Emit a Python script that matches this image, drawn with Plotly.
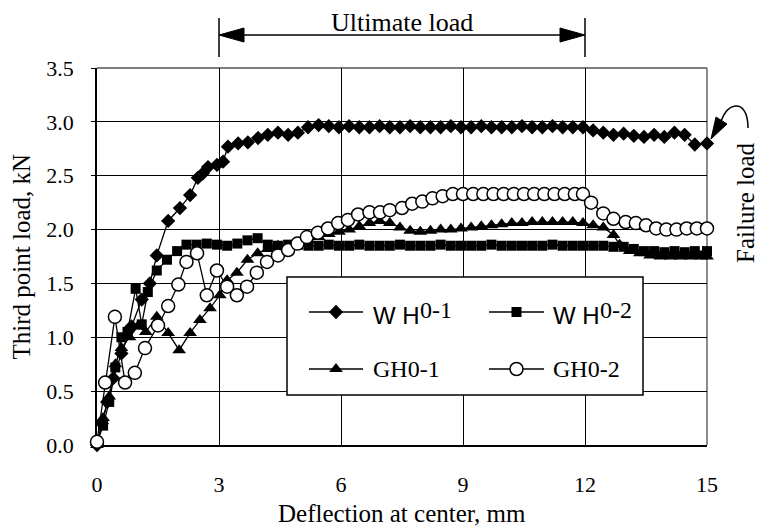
import plotly.graph_objects as go

# ---------------- data ----------------
wh01_x = [0, 0.12, 0.25, 0.4, 0.6, 0.85, 1.1, 1.3, 1.47, 1.75, 2.04, 2.29, 2.48, 2.6, 2.73, 2.95, 3.1, 3.22, 3.47, 3.71,
          3.96, 4.2, 4.45, 4.7, 4.94, 5.19, 5.45, 5.7, 5.95, 6.2, 6.45, 6.7, 6.95, 7.2, 7.45, 7.7, 7.95, 8.2, 8.45, 8.7,
          8.95, 9.2, 9.45, 9.7, 9.95, 10.2, 10.45, 10.7, 10.95, 11.2, 11.45, 11.7, 11.95, 12.2, 12.45, 12.7, 12.95, 13.2,
          13.45, 13.7, 13.95, 14.2, 14.45, 14.7, 15.0]
wh01_y = [0, 0.2, 0.4, 0.62, 0.85, 1.1, 1.35, 1.5, 1.76, 2.08, 2.2, 2.32, 2.48, 2.52, 2.58, 2.6, 2.63, 2.77, 2.8, 2.81,
          2.85, 2.88, 2.9, 2.88, 2.9, 2.95, 2.97, 2.96, 2.95, 2.96, 2.95, 2.95, 2.96, 2.95, 2.95, 2.96, 2.95, 2.95, 2.95,
          2.96, 2.95, 2.95, 2.96, 2.95, 2.95, 2.95, 2.96, 2.95, 2.95, 2.96, 2.95, 2.95, 2.95, 2.92, 2.9, 2.88, 2.89, 2.87,
          2.86, 2.88, 2.86, 2.9, 2.88, 2.79, 2.8]

wh02_x = [0, 0.15, 0.3, 0.45, 0.6, 0.75, 0.95, 1.1, 1.25, 1.47, 1.72, 1.97, 2.2, 2.45, 2.7, 2.95, 3.2, 3.45, 3.7, 3.95,
          4.2, 4.45, 4.7, 4.95, 5.2, 5.45, 5.7, 5.95, 6.2, 6.45, 6.7, 6.95, 7.2, 7.45, 7.7, 7.95, 8.2, 8.45, 8.7, 8.95,
          9.2, 9.45, 9.7, 9.95, 10.2, 10.45, 10.7, 10.95, 11.2, 11.45, 11.7, 11.95, 12.2, 12.45, 12.7, 12.95, 13.2, 13.45,
          13.7, 13.95, 14.2, 14.45, 14.7, 15.0]
wh02_y = [0.02, 0.18, 0.4, 0.72, 1.0, 1.05, 1.45, 1.12, 1.42, 1.62, 1.72, 1.8, 1.86, 1.86, 1.87, 1.86, 1.85, 1.87, 1.9,
          1.92, 1.86, 1.85, 1.86, 1.86, 1.85, 1.85, 1.86, 1.85, 1.85, 1.86, 1.85, 1.85, 1.85, 1.86, 1.85, 1.85, 1.85,
          1.86, 1.85, 1.85, 1.85, 1.85, 1.86, 1.85, 1.85, 1.85, 1.85, 1.85, 1.86, 1.85, 1.85, 1.85, 1.85, 1.85, 1.84,
          1.84, 1.82, 1.8, 1.8, 1.79, 1.8, 1.79, 1.8, 1.8]

gh01_x = [0, 0.15, 0.3, 0.45, 0.6, 0.8, 1.0, 1.2, 1.47, 1.75, 2.02, 2.29, 2.53, 2.78, 3.02, 3.2, 3.44, 3.7, 3.95, 4.2,
          4.45, 4.7, 4.95, 5.2, 5.45, 5.7, 5.95, 6.2, 6.45, 6.7, 6.95, 7.2, 7.45, 7.7, 7.95, 8.2, 8.45, 8.7, 8.95, 9.2,
          9.45, 9.7, 9.95, 10.2, 10.45, 10.7, 10.95, 11.2, 11.45, 11.7, 11.95, 12.2, 12.45, 12.7, 12.85, 13.1, 13.35,
          13.6, 13.85, 14.1, 14.35, 14.6, 14.85, 15.0]
gh01_y = [0, 0.25, 0.45, 0.75, 0.9, 1.0, 1.1, 1.05, 1.19, 1.04, 0.88, 1.04, 1.16, 1.27, 1.39, 1.53, 1.6, 1.72, 1.78,
          1.82, 1.85, 1.84, 1.88, 1.9, 1.93, 1.96, 1.98, 2.0, 2.03, 2.06, 2.08, 2.06, 2.02, 1.99, 1.98, 1.99, 2.0, 2.0,
          2.01, 2.02, 2.03, 2.04, 2.05, 2.06, 2.06, 2.07, 2.07, 2.07, 2.07, 2.07, 2.06, 2.04, 2.02, 1.95, 1.86, 1.8,
          1.78, 1.76, 1.75, 1.75, 1.75, 1.75, 1.75, 1.75]

gh02_x = [0, 0.2, 0.44, 0.69, 0.93, 1.18, 1.5, 1.75, 2.0, 2.2, 2.46, 2.7, 2.95, 3.2, 3.44, 3.69, 3.93, 4.18, 4.45, 4.7,
          4.93, 5.16, 5.43, 5.68, 5.93, 6.17, 6.42, 6.7, 6.96, 7.2, 7.5, 7.75, 8.0, 8.25, 8.5, 8.75, 9.0, 9.25, 9.5,
          9.75, 10.0, 10.25, 10.5, 10.75, 11.0, 11.25, 11.5, 11.75, 11.95, 12.15, 12.45, 12.7, 13.0, 13.25, 13.5, 13.75,
          14.0, 14.25, 14.5, 14.75, 15.0]
gh02_y = [0.03, 0.58, 1.19, 0.58, 0.67, 0.9, 1.11, 1.29, 1.49, 1.7, 1.78, 1.39, 1.62, 1.47, 1.39, 1.47, 1.6, 1.7, 1.76,
          1.81, 1.87, 1.93, 1.97, 2.01, 2.06, 2.09, 2.14, 2.16, 2.16, 2.18, 2.2, 2.24, 2.26, 2.29, 2.31, 2.33, 2.33,
          2.33, 2.33, 2.33, 2.33, 2.33, 2.33, 2.33, 2.33, 2.33, 2.33, 2.33, 2.33, 2.25, 2.15, 2.1, 2.07, 2.06, 2.04,
          2.01, 2.0, 2.0, 2.01, 2.01, 2.01]

x_ticks = [0, 3, 6, 9, 12, 15]
y_ticks = [0, 0.5, 1.0, 1.5, 2.0, 2.5, 3.0, 3.5]
ultimate_range = [3, 12]

# ---------------- layout geometry ----------------
# body margin is removed by a post script, so the figure fills the window
W, H = 759, 526
ML, MR, MT, MB = 97, 52, 68, 81
PW, PH = W - ML - MR, H - MT - MB
XR, YR = [0, 15], [0, 3.5]
SERIF = "Liberation Serif, Times New Roman, serif"
SANS = "Liberation Sans, Arial, sans-serif"


# helpers: convert window pixel positions to axis / paper coordinates
def dx(px):
    return XR[0] + (px - ML) / PW * (XR[1] - XR[0])


def dy(py):
    return YR[0] + (H - MB - py) / PH * (YR[1] - YR[0])


def pxp(px):
    return (px - ML) / PW


def pyp(py):
    return (H - MB - py) / PH


fig = go.Figure()
line = dict(color="black", width=1.3)
series = [
    ("WH0-1", wh01_x, wh01_y, dict(symbol="diamond", size=11, color="black")),
    ("WH0-2", wh02_x, wh02_y, dict(symbol="square", size=10, color="black")),
    ("GH0-1", gh01_x, gh01_y, dict(symbol="triangle-up", size=12, color="black")),
    ("GH0-2", gh02_x, gh02_y, dict(symbol="circle", size=13, color="white", line=dict(color="black", width=1.5))),
]
for name, xs, ys, mk in series:
    fig.add_trace(go.Scatter(x=xs, y=ys, mode="lines+markers", name=name, line=line, marker=mk,
                             cliponaxis=False, showlegend=False))

shapes = []
# top and right frame
shapes.append(dict(type="line", xref="paper", yref="paper", x0=0, x1=1, y0=1, y1=1,
                   line=dict(color="#555", width=1.5), layer="between"))
shapes.append(dict(type="line", xref="paper", yref="paper", x0=1, x1=1, y0=0, y1=1,
                   line=dict(color="#666", width=1.5), layer="between"))

# manual legend
box = dict(x0=dx(287), x1=dx(643), y0=dy(395), y1=dy(277))
shapes.append(dict(type="rect", xref="x", yref="y", **box, fillcolor="white",
                   line=dict(color="black", width=1.5), layer="between"))
rows = [dy(312), dy(369)]
cols = [(dx(309), dx(363)), (dx(489), dx(544))]
pos = [(0, 0), (0, 1), (1, 0), (1, 1)]
for i, (name, xs, ys, mk) in enumerate(series):
    r, c = pos[i]
    x0, x1 = cols[c]
    shapes.append(dict(type="line", xref="x", yref="y", x0=x0, x1=x1, y0=rows[r], y1=rows[r],
                       line=dict(color="black", width=1.3), layer="between"))
    fig.add_trace(go.Scatter(x=[(x0 + x1) / 2], y=[rows[r]], mode="markers", marker=mk,
                             showlegend=False, hoverinfo="skip"))

annotations = []
text_x = [dx(371), dx(551)]
for i, (name, xs, ys, mk) in enumerate(series):
    r, c = pos[i]
    if name.startswith("WH"):
        annotations.append(dict(x=text_x[c], y=dy(315), xref="x", yref="y", xanchor="left", yanchor="middle",
                                text="W H", showarrow=False, font=dict(family=SANS, size=24, color="black")))
        annotations.append(dict(x=text_x[c] + (dx(97 + 47) - dx(97)), y=dy(310), xref="x", yref="y",
                                xanchor="left", yanchor="middle", text=name[2:], showarrow=False,
                                font=dict(family=SERIF, size=24, color="black")))
    else:
        annotations.append(dict(x=text_x[c], y=rows[r], xref="x", yref="y", xanchor="left", yanchor="middle",
                                text=name, showarrow=False, font=dict(family=SERIF, size=24, color="black")))

# Ultimate load arrow
ya = pyp(35)
hl = dx(97 + 25) - dx(97)
hw = pyp(35) - pyp(42)
ua, ub = ultimate_range
shapes.append(dict(type="line", xref="x", yref="paper", x0=ua + hl * 0.5, x1=ub - hl * 0.5, y0=ya, y1=ya,
                   line=dict(color="black", width=1.5)))
for xv in ultimate_range:
    shapes.append(dict(type="line", xref="x", yref="paper", x0=xv, x1=xv, y0=pyp(57), y1=pyp(18),
                       line=dict(color="black", width=1.5)))
shapes.append(dict(type="path", xref="x", yref="paper",
                   path=f"M {ua},{ya} L {ua + hl},{ya + hw} L {ua + hl},{ya - hw} Z",
                   fillcolor="black", line=dict(color="black", width=1)))
shapes.append(dict(type="path", xref="x", yref="paper",
                   path=f"M {ub},{ya} L {ub - hl},{ya + hw} L {ub - hl},{ya - hw} Z",
                   fillcolor="black", line=dict(color="black", width=1)))
annotations.append(dict(x=(ua + ub) / 2, y=pyp(23), xref="x", yref="paper", text="Ultimate load",
                        showarrow=False, xanchor="center", yanchor="middle",
                        font=dict(family=SERIF, size=26, color="black")))


# Failure load curved arrow
def P(px, py):
    return f"{pxp(px)},{pyp(py)}"


curve = f"M {P(748,128)} C {P(748,112)} {P(742,105)} {P(735,106)} C {P(728,107)} {P(724,113)} {P(721,121)}"
shapes.append(dict(type="path", xref="paper", yref="paper", path=curve, line=dict(color="black", width=1.5)))
shapes.append(dict(type="path", xref="paper", yref="paper",
                   path=f"M {P(711,139)} L {P(727,124)} L {P(716,117)} Z",
                   fillcolor="black", line=dict(color="black", width=1)))
annotations.append(dict(x=pxp(745), y=pyp(202), xref="paper", yref="paper", text="Failure load", textangle=-90,
                        showarrow=False, xanchor="center", yanchor="middle",
                        font=dict(family=SERIF, size=25, color="black")))

# axis titles
annotations.append(dict(x=0.5, y=pyp(513), xref="paper", yref="paper", text="Deflection at center, mm",
                        showarrow=False, xanchor="center", yanchor="middle",
                        font=dict(family=SERIF, size=25, color="black")))
annotations.append(dict(x=pxp(21), y=0.5, xref="paper", yref="paper", text="Third point load, kN", textangle=-90,
                        showarrow=False, xanchor="center", yanchor="middle",
                        font=dict(family=SERIF, size=25, color="black")))

fig.update_layout(
    width=W, height=H, autosize=False,
    margin=dict(l=ML, r=MR, t=MT, b=MB, pad=0),
    paper_bgcolor="white", plot_bgcolor="white",
    shapes=shapes, annotations=annotations,
    xaxis=dict(range=XR, tickvals=x_ticks, showgrid=True, gridcolor="black", gridwidth=1.3, zeroline=False,
               showline=True, linecolor="black", linewidth=1.5, ticks="", layer="below traces",
               tickfont=dict(family=SERIF, size=22, color="black"), ticklabelstandoff=19, fixedrange=True),
    yaxis=dict(range=YR, tickvals=y_ticks, tickformat=".1f", showgrid=True, gridcolor="black", gridwidth=1.3,
               zeroline=False, showline=True, linecolor="black", linewidth=1.5, ticks="outside", ticklen=4,
               tickcolor="black", tickwidth=1.3, layer="below traces",
               tickfont=dict(family=SERIF, size=22, color="black"), ticklabelstandoff=13, fixedrange=True),
    showlegend=False,
)

fig.write_html("out.html", config={"displayModeBar": False},
               post_script="document.body.style.margin='0px';document.body.style.overflow='hidden';")
